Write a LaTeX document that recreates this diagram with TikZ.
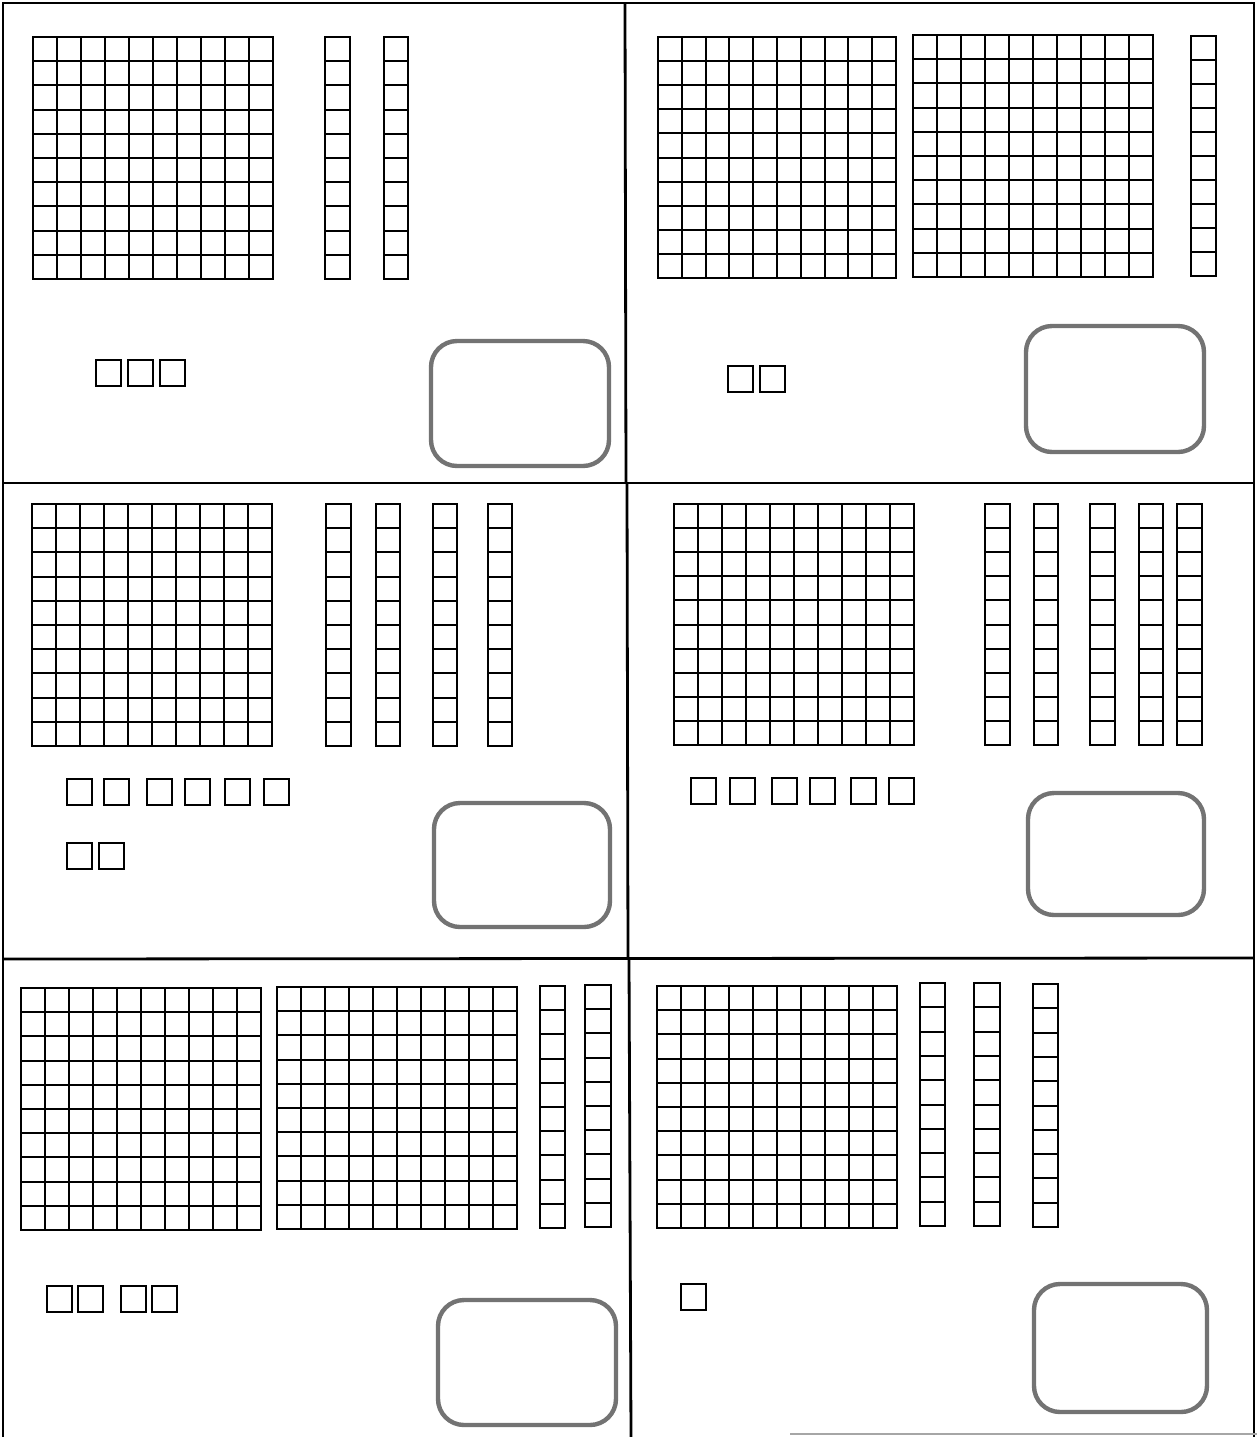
\documentclass[tikz,border=0pt]{standalone}
\begin{document}
\begin{tikzpicture}[x=0.5pt,y=-0.5pt,
  blk/.style={draw=black,line width=1pt},
  frame/.style={draw=black,line width=1.4pt},
  answerbox/.style={draw=black!55,line width=2.2pt,rounded corners=13pt}]
\useasboundingbox (0,0) rectangle (1257,1437);
\newcommand\hflat[4]{%
  \draw[blk] (#1,#2) rectangle (#3,#4);
  \foreach \i in {1,...,9}{%
    \draw[blk] ({#1+\i*(#3-#1)/10},#2) -- ({#1+\i*(#3-#1)/10},#4);
    \draw[blk] (#1,{#2+\i*(#4-#2)/10}) -- (#3,{#2+\i*(#4-#2)/10});
  }}
\newcommand\hrod[4]{%
  \draw[blk] (#1,#2) rectangle (#3,#4);
  \foreach \i in {1,...,9}{%
    \draw[blk] (#1,{#2+\i*(#4-#2)/10}) -- (#3,{#2+\i*(#4-#2)/10});
  }}
\newcommand\hunit[2]{\draw[blk] (#1,#2) rectangle ++(25,25.5);}
% frame
\draw[frame] (3,1437) -- (3,3) -- (1254,3) -- (1254,1437);
\draw[frame] (3,483) -- (1254,483);
\draw[frame] (3,959) -- (1254,958);
\draw[frame] (625,3) -- (626,483);
\draw[frame] (627,483) -- (628,959);
\draw[frame] (629,959) -- (631,1437);
\draw[draw=black!35,line width=0.8pt] (790,1434) -- (1257,1434);
% panel 1
\hflat{33}{37}{273}{279}
\hrod{325}{37}{350}{279}
\hrod{384}{37}{408}{279}
\hunit{96}{360}\hunit{128}{360}\hunit{160}{360}
\draw[answerbox] (431,341) rectangle (609,466);
% panel 2
\hflat{658}{37}{896}{278}
\hflat{913}{35}{1153}{277}
\hrod{1191}{36}{1216}{276}
\hunit{728}{366}\hunit{760}{366}
\draw[answerbox] (1026,326) rectangle (1204,452);
% panel 3
\hflat{32}{504}{272}{746}
\hrod{326}{504}{351}{746}
\hrod{376}{504}{400}{746}
\hrod{433}{504}{457}{746}
\hrod{488}{504}{512}{746}
\hunit{67}{779}\hunit{104}{779}\hunit{147}{779}\hunit{185}{779}\hunit{225}{779}\hunit{264}{779}
\hunit{67}{843}\hunit{99}{843}
\draw[answerbox] (434,803) rectangle (610,927);
% panel 4
\hflat{674}{504}{914}{745}
\hrod{985}{504}{1010}{745}
\hrod{1034}{504}{1058}{745}
\hrod{1090}{504}{1115}{745}
\hrod{1139}{504}{1163}{745}
\hrod{1177}{504}{1202}{745}
\hunit{691}{778}\hunit{730}{778}\hunit{772}{778}\hunit{810}{778}\hunit{851}{778}\hunit{889}{778}
\draw[answerbox] (1028,793) rectangle (1204,915);
% panel 5
\hflat{21}{988}{261}{1230}
\hflat{277}{987}{517}{1229}
\hrod{540}{986}{565}{1228}
\hrod{585}{985}{611}{1227}
\hunit{47}{1286}\hunit{78}{1286}\hunit{121}{1286}\hunit{152}{1286}
\draw[answerbox] (438,1300) rectangle (616,1425);
% panel 6
\hflat{657}{986}{897}{1228}
\hrod{920}{983}{945}{1226}
\hrod{974}{983}{1000}{1226}
\hrod{1033}{984}{1058}{1227}
\hunit{681}{1284}
\draw[answerbox] (1034,1284) rectangle (1207,1412);
\end{tikzpicture}
\end{document}
